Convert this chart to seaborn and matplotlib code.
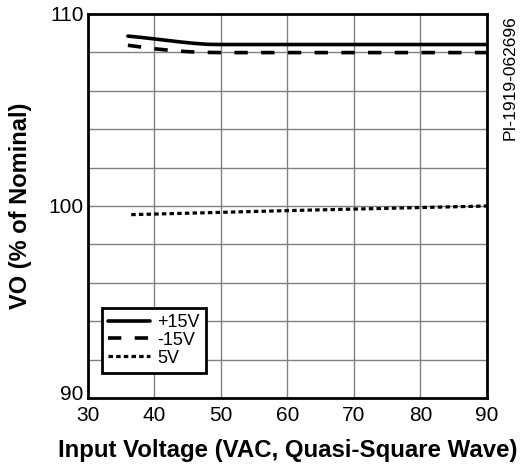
import matplotlib
matplotlib.use("Agg")
import matplotlib.pyplot as plt
import matplotlib.transforms as mtransforms
import seaborn as sns
import pandas as pd

# Data
vin_p15 = [36, 38, 40, 42, 44, 46, 48, 50, 60, 70, 80, 90]
vo_p15 = [108.85, 108.78, 108.7, 108.62, 108.54, 108.47, 108.42, 108.41, 108.41, 108.41, 108.41, 108.41]
vin_m15 = [36, 38, 40, 42, 44, 46, 48, 50, 60, 70, 80, 90]
vo_m15 = [108.37, 108.28, 108.19, 108.12, 108.06, 108.02, 108.0, 107.99, 107.99, 107.99, 107.99, 107.99]
vin_5 = [36.5, 40, 50, 60, 70, 80, 90]
vo_5 = [99.55, 99.58, 99.67, 99.76, 99.84, 99.92, 100.0]
series_names = ["+15V", "-15V", "5V"]

df = pd.concat([
    pd.DataFrame({"vin": vin_p15, "vo": vo_p15, "series": series_names[0]}),
    pd.DataFrame({"vin": vin_m15, "vo": vo_m15, "series": series_names[1]}),
    pd.DataFrame({"vin": vin_5, "vo": vo_5, "series": series_names[2]}),
])

sns.set_style("white")
plt.rcParams["font.family"] = ["Liberation Sans", "DejaVu Sans"]
plt.rcParams["text.color"] = "black"
plt.rcParams["axes.labelcolor"] = "black"
plt.rcParams["xtick.color"] = "black"
plt.rcParams["ytick.color"] = "black"

fig = plt.figure(figsize=(5.23, 4.70), dpi=100)
ax = fig.add_axes([88 / 523, 1 - 398 / 470, (487 - 88) / 523, (398 - 14) / 470])

styles = {
    "+15V": dict(lw=2.6, ls="-"),
    "-15V": dict(lw=2.6, ls=(0, (3.7, 3.7))),
    "5V": dict(lw=2.3, ls=(0, (1.4, 1.0))),
}
for name in series_names:
    sub = df[df["series"] == name]
    sns.lineplot(data=sub, x="vin", y="vo", ax=ax, color="black",
                 label=name, linewidth=styles[name]["lw"],
                 linestyle=styles[name]["ls"], zorder=3)

ax.set_xlim(30, 90)
ax.set_ylim(90, 110)
ax.set_xticks(range(30, 91, 10))
ax.set_yticks([90, 100, 110])
ax.set_yticks(range(90, 111, 2), minor=True)
ax.grid(True, which="major", color="#808080", lw=1.0)
ax.grid(True, which="minor", axis="y", color="#808080", lw=1.0)
ax.tick_params(axis="both", which="both", length=0, labelsize=15,
               labelcolor="black")
ax.tick_params(axis="y", pad=3)
ax.tick_params(axis="x", pad=6)
for s in ax.spines.values():
    s.set_color("black")
    s.set_linewidth(2)

# nudge the bottom y tick label upward (as in the reference)
fig.canvas.draw()
for lab in ax.get_yticklabels():
    if lab.get_text() == "90":
        lab.set_transform(lab.get_transform() +
                          mtransforms.ScaledTranslation(0, 4 / 72, fig.dpi_scale_trans))

ax.set_xlabel("Input Voltage (VAC, Quasi-Square Wave)", fontsize=17.3,
              fontweight="bold", labelpad=10, color="black")
ax.set_ylabel("VO (% of Nominal)", fontsize=17, fontweight="bold",
              labelpad=12, color="black")

leg = ax.legend(loc="lower left", bbox_to_anchor=(14 / 399, 25 / 384),
                fontsize=13, frameon=True, fancybox=False, framealpha=1,
                handlelength=2.3, handletextpad=0.4, borderpad=0.35,
                labelspacing=0.05, borderaxespad=0)
leg.get_frame().set_edgecolor("black")
leg.get_frame().set_linewidth(2)
for t in leg.get_texts():
    t.set_color("black")

fig.text(503 / 523, 1 - 15 / 470, "PI-1919-062696", rotation=90,
         fontsize=12.5, ha="left", va="top", color="black")

fig.savefig("out.png", dpi=100)
